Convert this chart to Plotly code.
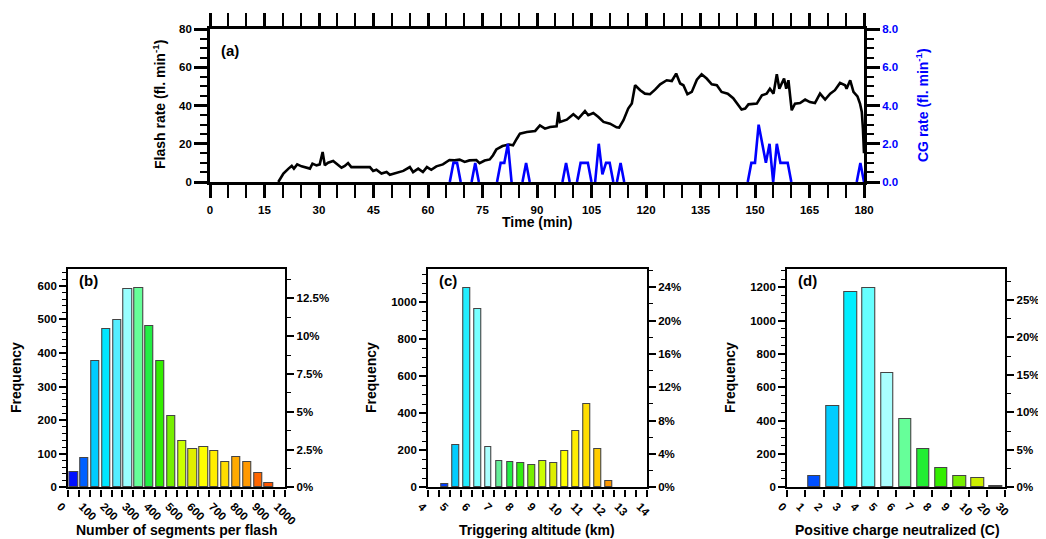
import plotly.graph_objects as go

# ---------------- Panel (a): flash rate and CG rate time series ----------------
time_min = [18.8, 20.2, 21.6, 22.5, 23.1, 24.0, 25.2, 26.6, 27.5, 28.2, 29.3, 30.2, 31.0, 31.6,
            32.5, 33.9, 34.8, 36.2, 37.1, 38.0, 38.9, 40.3, 44.0, 44.9, 45.8, 47.2, 48.6, 49.5,
            51.3, 53.2, 55.0, 55.9, 57.3, 58.6, 59.7, 60.9, 62.3, 64.1, 65.9, 67.3, 68.7, 70.1,
            71.4, 73.3, 74.2, 75.6, 77.0, 77.9, 78.8, 80.5, 82.3, 83.4, 84.4, 85.3, 87.2, 89.5,
            90.8, 92.2, 93.6, 95.4, 95.9, 96.3, 98.2, 100.0, 101.4, 103.2, 104.1, 105.5, 106.9,
            108.3, 110.1, 111.9, 112.6, 113.8, 115.1, 116.1, 117.0, 118.4, 119.7, 121.1, 122.5,
            123.9, 125.7, 127.1, 128.3, 129.4, 130.3, 131.4, 132.6, 134.0, 135.3, 136.7, 138.1,
            139.5, 140.8, 142.5, 144.0, 145.4, 146.3, 147.3, 148.2, 150.5, 151.9, 153.2, 154.1,
            155.1, 156.0, 156.7, 157.4, 158.0, 158.6, 159.2, 160.1, 161.0, 162.4, 163.8, 165.1,
            166.5, 167.9, 169.3, 170.7, 172.0, 173.4, 174.8, 175.2, 176.2, 177.1, 178.2, 178.9,
            179.4, 179.7, 180.0]
flash_rate = [0.0, 4.4, 7.0, 8.4, 7.0, 9.2, 8.2, 7.3, 7.0, 9.6, 8.7, 9.2, 15.7, 8.7,
              10.1, 11.0, 9.6, 7.5, 8.4, 9.9, 7.8, 7.8, 7.8, 5.8, 6.4, 4.4, 5.2, 3.8,
              4.7, 5.8, 7.8, 5.2, 7.0, 5.2, 7.8, 6.4, 8.2, 9.2, 11.5, 11.3, 11.7, 10.5,
              11.3, 11.5, 9.8, 11.2, 11.8, 14.0, 17.0, 18.8, 19.6, 19.2, 22.5, 25.3, 26.1, 26.7,
              29.6, 27.9, 28.8, 29.1, 36.6, 31.4, 32.6, 35.4, 33.2, 37.1, 34.9, 36.1, 34.0,
              31.4, 30.5, 28.6, 28.4, 32.3, 38.4, 41.0, 50.6, 48.0, 46.2, 45.9, 48.3,
              51.1, 53.2, 52.8, 56.7, 51.5, 50.6, 45.9, 47.1, 53.5, 56.3, 54.1, 51.1,
              50.6, 47.1, 46.2, 43.8, 40.1, 37.9, 38.4, 40.6, 41.0, 45.3, 46.2, 48.8,
              46.2, 56.3, 48.8, 51.5, 54.1, 48.8, 53.2, 37.5, 41.0, 41.3, 43.1, 41.8,
              41.3, 46.2, 43.1, 46.2, 48.0, 51.8, 50.6, 48.8, 53.2, 47.1, 44.8, 41.0,
              36.6, 28.0, 15.0]

# CG rate: separate episodes (None = break between episodes, rate 0 in between)
cg_time = [66, 67, 68, 69, None, 72, 73, 74, None, 79, 80, 81, 82, 83, None, 86, 87, 88, None,
           97, 98, 99, None, 101, 102, 103, 104, 105, None, 106, 107, 108, 109, 110, 111, None,
           112, 113, 114, None, 148, 149, 150, 151, 152, 153, 154, 155, 156, 157, 158, 159, 160,
           None, 178, 179, 180]
cg_rate = [0, 1, 1, 0, None, 0, 1, 0, None, 0, 1, 1, 2, 0, None, 0, 1, 0, None,
           0, 1, 0, None, 0, 1, 1, 1, 0, None, 0, 2, 0.4, 1, 1, 0, None,
           0, 1, 0, None, 0, 1, 1, 3, 2, 1, 2, 0, 2, 1, 1, 1, 0,
           None, 0, 1, 0]

# ---------------- Panel (b): number of segments per flash ----------------
seg_bin_left = [0, 50, 100, 150, 200, 250, 300, 350, 400, 450, 500, 550, 600, 650, 700,
                750, 800, 850, 900]
seg_bin_width = 50
seg_counts = [45, 88, 375, 470, 497, 591, 594, 481, 375, 213, 138, 113, 119, 109, 74,
              91, 74, 42, 12]
seg_colors = ["#0010ff", "#0060ff", "#00ccff", "#00e6ff", "#55eeff", "#99ffff", "#66ff99",
              "#22ee44", "#33ee00", "#77ee00", "#ccff00", "#e0ee00", "#ffff00", "#ffee00",
              "#ffdd00", "#ffaa00", "#ff9900", "#ff6600", "#ff5500"]
seg_ticks = [0, 100, 200, 300, 400, 500, 600, 700, 800, 900, 1000]

# ---------------- Panel (c): triggering altitude ----------------
alt_bin_left = [4.5, 5.0, 5.5, 6.0, 6.5, 7.0, 7.5, 8.0, 8.5, 9.0, 9.5, 10.0, 10.5, 11.0,
                11.5, 12.0]
alt_bin_width = 0.5
alt_counts = [16, 229, 1076, 964, 216, 144, 139, 133, 121, 144, 133, 198, 304, 450, 205, 32]
alt_colors = ["#0040ff", "#00ccff", "#22eeff", "#77ffff", "#aaffff", "#66ee99", "#22ee44",
              "#33ee11", "#77ee00", "#ccff00", "#ddee00", "#ffff00", "#ffee00", "#ffdd00",
              "#ffcc00", "#ff9900"]
alt_ticks = [4, 5, 6, 7, 8, 9, 10, 11, 12, 13, 14]

# ---------------- Panel (d): positive charge neutralized ----------------
charge_labels = ["0", "1", "2", "3", "4", "5", "6", "7", "8", "9", "10", "20", "30"]
charge_counts = [None, 66, 489, 1170, 1196, 685, 411, 228, 116, 70, 56, 10]
charge_colors = ["#0010ff", "#0050ff", "#00ccff", "#00eeff", "#66ffff", "#aaffff", "#66ff99",
                 "#22ee33", "#33ee00", "#77ee00", "#ccee00", "#e6e600"]

FONT = "Liberation Sans"
OFF = 8                      # page body margin of the browser
W, H = 1046 - OFF, 539 - OFF


def px_x(p):
    return (p - OFF) / W


def px_y(p):
    return 1 - (p - OFF) / H


fig = go.Figure()

# ---- panel a traces
fig.add_trace(go.Scatter(x=time_min, y=flash_rate, mode="lines",
                         line=dict(color="black", width=2.6), xaxis="x", yaxis="y",
                         showlegend=False, hoverinfo="skip"))
fig.add_trace(go.Scatter(x=cg_time, y=cg_rate, mode="lines", connectgaps=False,
                         line=dict(color="#0000ff", width=2.6), xaxis="x", yaxis="y2",
                         showlegend=False, hoverinfo="skip"))


def add_hist(centers, counts, colors, width, xa, ya, ya_pct):
    fig.add_trace(go.Bar(x=centers, y=counts, width=width, xaxis=xa, yaxis=ya,
                         marker=dict(color=colors, line=dict(color="#444444", width=1.1)),
                         showlegend=False, hoverinfo="skip"))
    total = sum(c for c in counts if c)
    pct = [(c / total * 100 if c else None) for c in counts]
    fig.add_trace(go.Scatter(x=centers, y=pct, mode="markers", xaxis=xa, yaxis=ya_pct,
                             marker=dict(opacity=0, size=1), showlegend=False, hoverinfo="skip"))
    return total


seg_centers = [l + seg_bin_width / 2 for l in seg_bin_left]
tot_b = add_hist(seg_centers, seg_counts, seg_colors, seg_bin_width * 0.76, "x2", "y3", "y4")

alt_centers = [l + alt_bin_width / 2 for l in alt_bin_left]
tot_c = add_hist(alt_centers, alt_counts, alt_colors, alt_bin_width * 0.62, "x3", "y5", "y6")

charge_centers = [i + 0.5 for i in range(len(charge_counts))]
tot_d = add_hist(charge_centers, charge_counts, charge_colors, 0.68, "x4", "y7", "y8")

tickfont = dict(family=FONT, size=11.5, color="black", weight="bold")

common = dict(showgrid=False, zeroline=False, showline=True, linecolor="black",
              tickcolor="black", tickfont=tickfont, fixedrange=True, automargin=False)

# domains (reference pixel positions)
dom_a_x = [px_x(210), px_x(864)]
dom_a_y = [px_y(182), px_y(29)]
dom_bot_y = [px_y(487.3), px_y(269)]
dom_b_x = [px_x(68.3), px_x(285)]
dom_c_x = [px_x(428.3), px_x(646.7)]
dom_d_x = [px_x(787.3), px_x(1005)]

b_top, c_top, d_top = 650, 1180, 1310

fig.update_layout(
    width=W, height=H, margin=dict(l=0, r=0, t=0, b=0, autoexpand=False),
    paper_bgcolor="white", plot_bgcolor="white", bargap=0,
    font=dict(family=FONT, color="black"),
    xaxis=dict(**common, domain=dom_a_x, anchor="y", range=[0, 180], tickmode="linear",
               tick0=0, dtick=15, ticks="outside", ticklen=13, tickwidth=2.6, linewidth=2.8,
               ticklabelstandoff=2,
               mirror="allticks", minor=dict(ticks="outside", dtick=5, ticklen=7, tickwidth=1.6,
                                             tickcolor="black")),
    yaxis=dict(**common, domain=dom_a_y, anchor="x", range=[0, 80], tickmode="linear",
               tick0=0, dtick=20, ticks="outside", ticklen=13, tickwidth=2.6, linewidth=2.8,
               minor=dict(ticks="outside", dtick=5, ticklen=7, tickwidth=1.6, tickcolor="black")),
    yaxis2=dict(**{**common, "tickfont": dict(family=FONT, size=11.5, color="#0000ff", weight="bold")},
                overlaying="y", side="right", anchor="x", range=[0, 8], tickmode="linear",
                tick0=0, dtick=2, tickformat=".1f", ticks="outside", ticklen=13, tickwidth=2.6,
                linewidth=2.8,
                minor=dict(ticks="outside", dtick=0.5, ticklen=7, tickwidth=1.6, tickcolor="black")),
    # panel b
    xaxis2=dict(**common, domain=dom_b_x, anchor="y3", range=[0, 1000], tickmode="array",
                tickvals=seg_ticks, ticktext=[str(v) for v in seg_ticks], tickangle=45,
                ticklabelshift=-8, ticklabelstandoff=-1,
                ticks="outside", ticklen=7, tickwidth=2.2, linewidth=2.4, mirror=True,
                minor=dict(ticks="outside", dtick=50, ticklen=7, tickwidth=2.2, tickcolor="black")),
    yaxis3=dict(**common, domain=dom_bot_y, anchor="x2", range=[0, b_top], tickmode="linear",
                tick0=0, dtick=100, ticks="outside", ticklen=7, tickwidth=2.2, linewidth=2.4,
                minor=dict(ticks="outside", dtick=20, ticklen=4, tickwidth=1.2, tickcolor="black")),
    yaxis4=dict(**common, overlaying="y3", side="right", anchor="x2",
                range=[0, b_top / tot_b * 100], tickmode="array",
                tickvals=[0, 2.5, 5, 7.5, 10, 12.5],
                ticktext=["0%", "2.5%", "5%", "7.5%", "10%", "12.5%"],
                ticks="outside", ticklen=7, tickwidth=2.2, linewidth=2.4,
                minor=dict(ticks="outside", dtick=1.25, tick0=0, ticklen=4, tickwidth=1.2,
                           tickcolor="black")),
    # panel c
    xaxis3=dict(**common, domain=dom_c_x, anchor="y5", range=[4, 14], tickmode="array",
                tickvals=alt_ticks, ticktext=[str(v) for v in alt_ticks], tickangle=45,
                ticklabelshift=-7, ticklabelstandoff=-1,
                ticks="outside", ticklen=7, tickwidth=2.2, linewidth=2.4, mirror=True,
                minor=dict(ticks="outside", dtick=0.5, ticklen=7, tickwidth=2.2, tickcolor="black")),
    yaxis5=dict(**common, domain=dom_bot_y, anchor="x3", range=[0, c_top], tickmode="linear",
                tick0=0, dtick=200, ticks="outside", ticklen=7, tickwidth=2.2, linewidth=2.4,
                minor=dict(ticks="outside", dtick=50, ticklen=4, tickwidth=1.2, tickcolor="black")),
    yaxis6=dict(**common, overlaying="y5", side="right", anchor="x3",
                range=[0, c_top / tot_c * 100], tickmode="array",
                tickvals=[0, 4, 8, 12, 16, 20, 24],
                ticktext=["0%", "4%", "8%", "12%", "16%", "20%", "24%"],
                ticks="outside", ticklen=7, tickwidth=2.2, linewidth=2.4,
                minor=dict(ticks="outside", dtick=2, tick0=0, ticklen=4, tickwidth=1.2,
                           tickcolor="black")),
    # panel d
    xaxis4=dict(**common, domain=dom_d_x, anchor="y7", range=[0, len(charge_labels) - 1],
                tickmode="array", tickvals=list(range(len(charge_labels))),
                ticktext=charge_labels, tickangle=45,
                ticklabelshift=-6, ticklabelstandoff=-1,
                ticks="outside", ticklen=7, tickwidth=2.2, linewidth=2.4, mirror=True),
    yaxis7=dict(**common, domain=dom_bot_y, anchor="x4", range=[0, d_top], tickmode="linear",
                tick0=0, dtick=200, ticks="outside", ticklen=7, tickwidth=2.2, linewidth=2.4,
                minor=dict(ticks="outside", dtick=50, ticklen=4, tickwidth=1.2, tickcolor="black")),
    yaxis8=dict(**common, overlaying="y7", side="right", anchor="x4",
                range=[0, d_top / tot_d * 100], tickmode="array",
                tickvals=[0, 5, 10, 15, 20, 25],
                ticktext=["0%", "5%", "10%", "15%", "20%", "25%"],
                ticks="outside", ticklen=7, tickwidth=2.2, linewidth=2.4,
                minor=dict(ticks="outside", dtick=2.5, tick0=0, ticklen=4, tickwidth=1.2,
                           tickcolor="black")),
)

title_font = dict(family=FONT, size=14, color="black", weight="bold")
annots = [
    dict(text="Flash rate (fl. min<sup>-1</sup>)", x=px_x(159), y=px_y(105), textangle=-90,
         font=title_font),
    dict(text="CG rate (fl. min<sup>-1</sup>)", x=px_x(922), y=px_y(105), textangle=-90,
         font=dict(family=FONT, size=14, color="#0000ff", weight="bold")),
    dict(text="Time (min)", x=px_x(537), y=px_y(222), font=title_font),
    dict(text="(a)", x=px_x(230), y=px_y(51), font=dict(family=FONT, size=15, weight="bold")),
    dict(text="(b)", x=px_x(88), y=px_y(280), font=dict(family=FONT, size=15, weight="bold")),
    dict(text="(c)", x=px_x(448), y=px_y(280), font=dict(family=FONT, size=15, weight="bold")),
    dict(text="(d)", x=px_x(807), y=px_y(280), font=dict(family=FONT, size=15, weight="bold")),
    dict(text="Frequency", x=px_x(16), y=px_y(378), textangle=-90, font=title_font),
    dict(text="Frequency", x=px_x(371), y=px_y(378), textangle=-90, font=title_font),
    dict(text="Frequency", x=px_x(730), y=px_y(378), textangle=-90, font=title_font),
    dict(text="Number of segments per flash", x=px_x(177), y=px_y(530), font=title_font),
    dict(text="Triggering altitude (km)", x=px_x(537), y=px_y(530), font=title_font),
    dict(text="Positive charge neutralized (C)", x=px_x(897), y=px_y(530), font=title_font),
]
for a in annots:
    a.update(xref="paper", yref="paper", showarrow=False, xanchor="center", yanchor="middle")
fig.update_layout(annotations=annots)

fig.write_html("out.html")
